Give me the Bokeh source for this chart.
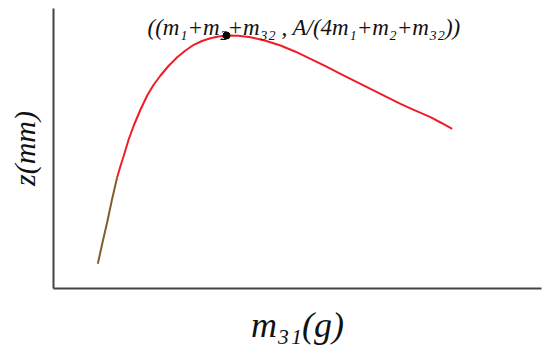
from bokeh.plotting import figure
from bokeh.models import Label, Range1d
from bokeh.embed import file_html
from bokeh.resources import INLINE

# curve values (x: m31, y: z)
x_early = [0.908, 1.004, 1.100, 1.199, 1.305]
y_early = [0.882, 1.643, 2.368, 3.179, 3.975]
x_main = [1.305, 1.373, 1.441, 1.537, 1.645, 1.783, 1.920, 2.049, 2.193, 2.357,
          2.535, 2.705, 2.875, 3.043, 3.217, 3.381, 3.545, 3.791, 4.037, 4.344,
          4.652, 4.959, 5.266, 5.574, 5.881, 6.189, 6.496, 6.803, 7.111, 7.418,
          7.725, 7.951, 8.170]
y_main = [3.975, 4.375, 4.750, 5.304, 5.821, 6.393, 6.893, 7.268, 7.607, 7.946,
          8.261, 8.500, 8.704, 8.839, 8.939, 9.000, 9.036, 9.029, 8.975, 8.850,
          8.679, 8.457, 8.204, 7.939, 7.668, 7.400, 7.132, 6.864, 6.596, 6.350,
          6.118, 5.911, 5.704]
peak_x = [3.545]
peak_y = [9.036]
peak_text = "((m\u2081+m\u2082+m\u2083\u2082 , A/(4m\u2081+m\u2082+m\u2083\u2082))"
x_label = "m\u2083\u2081(g)"
y_label = "z(mm)"

p = figure(width=550, height=352, output_backend="svg", toolbar_location=None,
           x_range=Range1d(0, 10), y_range=Range1d(0, 10),
           min_border_left=53, min_border_right=9, min_border_top=8, min_border_bottom=64)
p.outline_line_color = None
p.grid.visible = False
font = "Liberation Serif"
for ax in (p.xaxis[0], p.yaxis[0]):
    ax.major_tick_line_color = None
    ax.minor_tick_line_color = None
    ax.major_label_text_font_size = "0px"
    ax.major_label_text_color = None
    ax.major_label_standoff = 0
    ax.major_tick_out = 0
    ax.axis_line_width = 2
    ax.axis_line_color = "#444444"
    ax.axis_label_text_font = font
    ax.axis_label_text_font_style = "italic"
    ax.axis_label_text_color = "#111111"
p.xaxis.axis_label = x_label
p.xaxis.axis_label_text_font_size = "36px"
p.xaxis.axis_label_standoff = 12
p.yaxis.axis_label = y_label
p.yaxis.axis_label_text_font_size = "30px"
p.yaxis.axis_label_standoff = 9

p.line(x_main, y_main, line_color="#f01c28", line_width=2)
p.line(x_early, y_early, line_color="#7f5f2a", line_width=2)
p.scatter(peak_x, peak_y, size=7, color="black")

p.add_layout(Label(x=1.926, y=9.321, text=peak_text, text_font=font,
                   text_font_style="italic", text_font_size="23px",
                   text_baseline="alphabetic", text_align="left", text_color="#111111"))

open("out.html", "w").write(file_html(p, INLINE))
